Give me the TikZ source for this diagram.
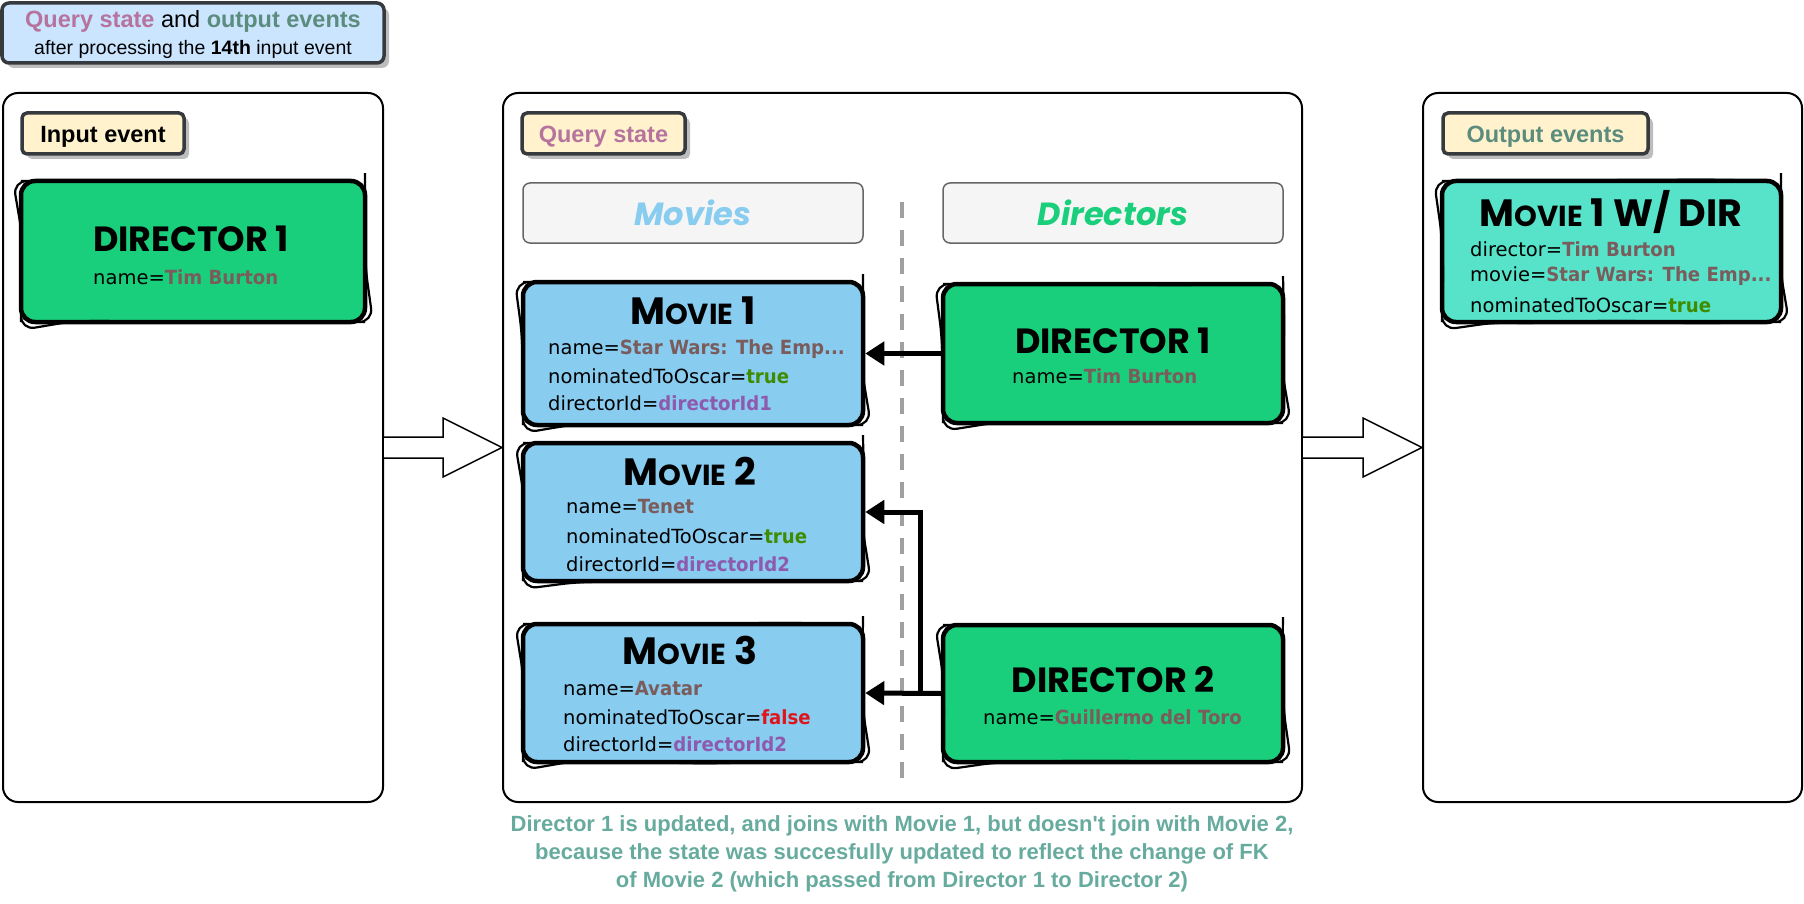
\documentclass[tikz,border=0pt]{standalone}
\usepackage{fontspec}
\setmainfont{Liberation Sans}
\newfontfamily\bodyfont{DejaVu Sans}[BoldFeatures={FakeStretch=0.93}]
\newfontfamily\markfont{Poppins}
\usetikzlibrary{arrows.meta,shadows,decorations.pathmorphing}

\definecolor{legendfill}{HTML}{CCE5FF}
\definecolor{tagborder}{HTML}{36393D}
\definecolor{tagfill}{HTML}{FFF2CC}
\definecolor{shadowgray}{HTML}{BDBDBD}
\definecolor{headfill}{HTML}{F5F5F5}
\definecolor{headline}{HTML}{666666}
\definecolor{dirgreen}{HTML}{1ACF7B}
\definecolor{movieblue}{HTML}{88CCF0}
\definecolor{joinfill}{HTML}{56E3C9}
\definecolor{valbrown}{HTML}{7A5C5C}
\definecolor{valtrue}{HTML}{3F8C00}
\definecolor{valfalse}{HTML}{E0151B}
\definecolor{valid}{HTML}{8E5AAE}
\definecolor{qcolor}{HTML}{B5739D}
\definecolor{ocolor}{HTML}{5B8C7E}
\definecolor{notecolor}{HTML}{67AB9F}
\definecolor{divgray}{HTML}{A0A0A0}

\newcommand{\val}[2]{{\bfseries\color{#1}#2}}
\newcommand{\mtitle}[1]{M{\fontsize{29}{32}\selectfont OVIE} #1}

\begin{document}
\begin{tikzpicture}[x=1pt,y=-1pt,
  panel/.style={draw=black, line width=2pt, rounded corners=15pt, fill=white},
  tag/.style={draw=tagborder, line width=3.5pt, rounded corners=5pt, fill=tagfill,
    drop shadow={shadow xshift=5pt, shadow yshift=-5pt, fill=shadowgray, opacity=1},
    font=\fontsize{23.5}{28}\selectfont\bfseries, inner sep=0pt, minimum height=41pt,
    text height=23pt, text depth=5pt},
  legend/.style={draw=tagborder, line width=3.5pt, rounded corners=7pt, fill=legendfill,
    drop shadow={shadow xshift=5pt, shadow yshift=-5pt, fill=shadowgray, opacity=1},
    inner sep=0pt},
  header/.style={draw=headline, line width=1.5pt, rounded corners=7pt, fill=headfill,
    minimum width=340pt, minimum height=60pt, inner sep=0pt},
  sketch/.style={draw=black, line width=4.5pt, rounded corners=14pt, inner sep=0pt,
    postaction={draw=black, line width=2.2pt, decorate,
      decoration={random steps, segment length=38pt, amplitude=1.3pt}}},
  dirbox/.style={sketch, fill=dirgreen},
  moviebox/.style={sketch, fill=movieblue},
  joinbox/.style={sketch, fill=joinfill},
  title/.style={font=\markfont\bfseries\fontsize{35}{40}\selectfont, inner sep=0pt},
  mtitle/.style={font=\markfont\bfseries\fontsize{38}{42}\selectfont, inner sep=0pt},
  field/.style={font=\bodyfont\fontsize{19.5}{24}\selectfont, anchor=west, inner sep=0pt},
  link/.style={line width=5pt, line join=miter, -{Triangle[length=19pt,width=23pt]}},
  divider/.style={draw=divgray, line width=4pt, dash pattern=on 16pt off 12pt},
  bigarrow/.style={draw=black, line width=1.5pt, fill=white, line join=miter}
]
\pgfmathsetseed{11}
\useasboundingbox (0,0) rectangle (1804,904);

% ---------- legend ----------
\node[legend, minimum width=382pt, minimum height=60pt] (legend) at (193,33) {};
\node[font=\fontsize{23.5}{28}\selectfont] (legend-l1) at (193,21)
  {\val{qcolor}{Query state} and \val{ocolor}{output events}};
\node[font=\fontsize{19.5}{24}\selectfont] (legend-l2) at (193,49)
  {after processing the \textbf{14th} input event};

% ---------- panels ----------
\node[panel, minimum width=380pt, minimum height=709pt] (inpanel) at (193,447.5) {};
\node[panel, minimum width=799pt, minimum height=709pt] (statepanel) at (902.5,447.5) {};
\node[panel, minimum width=379pt, minimum height=709pt] (outpanel) at (1612.5,447.5) {};

% hollow arrows between the panels
\draw[bigarrow] (383,437) -- (443,437) -- (443,418) -- (502,447.5) -- (443,477)
  -- (443,458) -- (383,458) -- cycle;
\draw[bigarrow] (1302,437) -- (1363,437) -- (1363,418) -- (1422,447.5) -- (1363,477)
  -- (1363,458) -- (1302,458) -- cycle;

% ---------- input event ----------
\node[tag, minimum width=162pt] (intag) at (103,133.5) {Input event};
\node[dirbox, minimum width=344pt, minimum height=141pt] (in-d1) at (193,251.5) {};
\node[title] (in-d1-t) at (191,239) {DIRECTOR 1};
\node[field] (in-d1-f1) at (93,277) {name=\val{valbrown}{Tim Burton}};

% ---------- query state ----------
\node[tag, minimum width=163pt] (qtag) at (603.5,133.5) {\val{qcolor}{Query state}};
\node[header] (movies-h) at (693,213)
  {\markfont\bfseries\itshape\fontsize{32}{36}\selectfont\color{movieblue}Movies};
\node[header] (dirs-h) at (1113,213)
  {\markfont\bfseries\itshape\fontsize{32}{36}\selectfont\color{dirgreen}Directors};
\coordinate (div-top) at (902,202);
\coordinate (div-bot) at (902,787);
\draw[divider] (div-top) -- (div-bot);

\node[moviebox, minimum width=340pt, minimum height=143pt] (m1) at (693,353.5) {};
\node[mtitle] (m1-t) at (693,311) {\mtitle{1}};
\node[field] (m1-f1) at (548,349) {name=\val{valbrown}{Star Wars: The Emp...}};
\node[field] (m1-f2) at (548,376) {nominatedToOscar=\val{valtrue}{true}};
\node[field] (m1-f3) at (548,403) {directorId=\val{valid}{directorId1}};

\node[moviebox, minimum width=340pt, minimum height=138pt] (m2) at (693,512) {};
\node[mtitle] (m2-t) at (690,471) {\mtitle{2}};
\node[field] (m2-f1) at (566,507) {name=\val{valbrown}{Tenet}};
\node[field] (m2-f2) at (566,536) {nominatedToOscar=\val{valtrue}{true}};
\node[field] (m2-f3) at (566,564) {directorId=\val{valid}{directorId2}};

\node[moviebox, minimum width=340pt, minimum height=138pt] (m3) at (693,693) {};
\node[mtitle] (m3-t) at (690,650) {\mtitle{3}};
\node[field] (m3-f1) at (563,689) {name=\val{valbrown}{Avatar}};
\node[field] (m3-f2) at (563,717) {nominatedToOscar=\val{valfalse}{false}};
\node[field] (m3-f3) at (563,744) {directorId=\val{valid}{directorId2}};

\node[dirbox, minimum width=340pt, minimum height=139pt] (d1) at (1113,353.5) {};
\node[title] (d1-t) at (1113,341) {DIRECTOR 1};
\node[field] (d1-f1) at (1012,376) {name=\val{valbrown}{Tim Burton}};

\node[dirbox, minimum width=340pt, minimum height=137pt] (d2) at (1113,693.5) {};
\node[title] (d2-t) at (1113,680) {DIRECTOR 2};
\node[field] (d2-f1) at (983,717) {name=\val{valbrown}{Guillermo del Toro}};

\draw[link] (d1.west) -- (m1.east);
\draw[link] (d2.west) -- (m3.east);
\draw[link] (d2.west) -- ++(-20,0) |- (m2.east);

% ---------- output events ----------
\node[tag, minimum width=205pt] (otag) at (1545.5,133.5) {\val{ocolor}{Output events}};
\node[joinbox, minimum width=339pt, minimum height=141pt] (out1) at (1611.5,251.5) {};
\node[mtitle] (out1-t) at (1611,212) {\mtitle{1} W/ DIR};
\node[field] (out1-f1) at (1470,249) {director=\val{valbrown}{Tim Burton}};
\node[field] (out1-f2) at (1470,276) {movie=\val{valbrown}{Star Wars: The Emp...}};
\node[field] (out1-f3) at (1470,305) {nominatedToOscar=\val{valtrue}{true}};

% ---------- note ----------
\node[align=center, text=notecolor, font=\bfseries\fontsize{22}{28}\selectfont]
  (note) at (902,854)
  {Director 1 is updated, and joins with Movie 1, but doesn\textquotesingle t join with Movie 2,\\
   because the state was succesfully updated to reflect the change of FK\\
   of Movie 2 (which passed from Director 1 to Director 2)};
\end{tikzpicture}
\end{document}
